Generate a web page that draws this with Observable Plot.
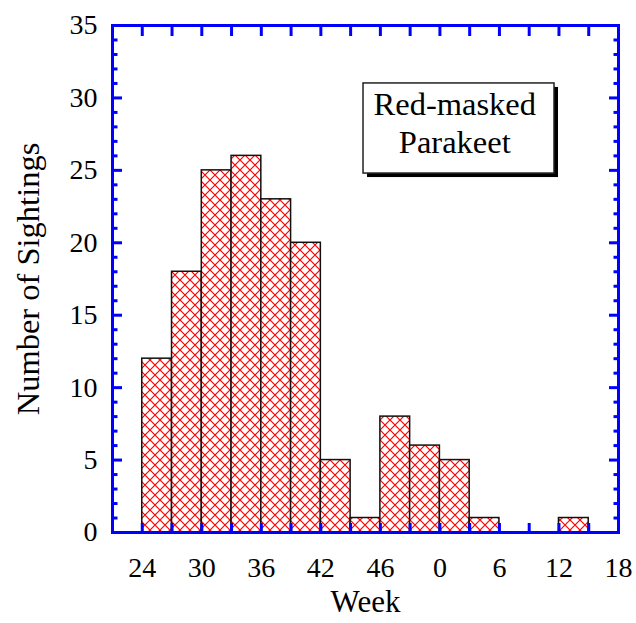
<!DOCTYPE html>
<html><head><meta charset="utf-8">
<script src="https://cdn.jsdelivr.net/npm/d3@7"></script>
<script src="https://cdn.jsdelivr.net/npm/@observablehq/plot@0.6"></script>
<style>html,body{margin:0;padding:0;background:#fff}</style>
</head><body><div id="chart"></div>
<script>
// Data
const binStarts = [24, 27, 30, 33, 36, 39, 42, 45, 48, 51, 54, 57, 60, 63, 66];
const counts    = [12, 18, 25, 26, 23, 20,  5,  1,  8,  6,  5,  1,  0,  0,  1];
const binWidth = 3;
const tickWeeks = [24, 27, 30, 33, 36, 39, 42, 45, 48, 51, 54, 57, 60, 63, 66, 69, 72];
const labelWeeks = [24, 30, 36, 42, 48, 54, 60, 66, 72];
const weekLabels = ["24", "30", "36", "42", "46", "0", "6", "12", "18"];
const yMajor = [0, 5, 10, 15, 20, 25, 30, 35];
const yMinor = [1, 2, 3, 4, 6, 7, 8, 9, 11, 12, 13, 14, 16, 17, 18, 19, 21, 22, 23, 24, 26, 27, 28, 29, 31, 32, 33, 34];
const legendLines = ["Red-masked", "Parakeet"];
const legendBox = {x1: 46.3, x2: 65.55, y1: 24.78, y2: 31.0, cx: 55.5, cy: 28.35};

const data = binStarts.map((s, i) => ({x1: s, x2: s + binWidth, y: counts[i]}));
const blue = "#0000ff";
const serif = "'Liberation Serif', 'Times New Roman', serif";

const defs = () => {
  const d = d3.create("svg:defs");
  const p = d.append("pattern").attr("id", "hatch").attr("patternUnits", "userSpaceOnUse")
    .attr("width", 10).attr("height", 10);
  p.append("rect").attr("width", 10).attr("height", 10).attr("fill", "white");
  p.append("path").attr("d", "M0,0L10,10M10,0L0,10").attr("stroke", "#ff0000").attr("stroke-width", 1.2);
  return d.node();
};

const tickOpts = (extra) => Object.assign({stroke: blue, strokeWidth: 3, tickFormat: () => "", label: null}, extra);

const chart = Plot.plot({
  width: 636, height: 623,
  marginLeft: 112, marginRight: 18, marginTop: 25, marginBottom: 91,
  x: {domain: [21, 72]},
  y: {domain: [0, 35]},
  style: {fontFamily: serif, background: "white", color: "black"},
  marks: [
    defs,
    Plot.rectY(data, {x1: "x1", x2: "x2", y: "y", fill: "url(#hatch)", stroke: "#111", strokeWidth: 1.5}),
    Plot.frame({stroke: blue, strokeWidth: 3}),
    Plot.axisX(tickWeeks, tickOpts({anchor: "bottom", tickSize: -9})),
    Plot.axisX(tickWeeks, tickOpts({anchor: "top", tickSize: -10})),
    Plot.axisY(yMajor, tickOpts({anchor: "left", tickSize: -10})),
    Plot.axisY(yMinor, tickOpts({anchor: "left", tickSize: -5.5})),
    Plot.axisY(yMajor, tickOpts({anchor: "right", tickSize: -10})),
    Plot.axisY(yMinor, tickOpts({anchor: "right", tickSize: -5.5})),
    Plot.axisX(labelWeeks, {anchor: "bottom", tickSize: 0, tickPadding: 25, fontSize: 28, fill: "black", label: null,
      tickFormat: d => weekLabels[labelWeeks.indexOf(d)]}),
    Plot.axisY(yMajor, {anchor: "left", tickSize: 0, tickPadding: 15, fontSize: 28, fill: "black", label: null}),
    Plot.text(["Number of Sightings"], {frameAnchor: "left", dx: -84, rotate: -90, textAnchor: "middle", lineAnchor: "middle", fontSize: 32.5, fill: "black"}),
    Plot.text(["Week"], {frameAnchor: "bottom", dy: 70, textAnchor: "middle", lineAnchor: "middle", fontSize: 31, fill: "black"}),
    Plot.rect([legendBox], {x1: "x1", x2: "x2", y1: "y1", y2: "y2", fill: "black", dx: 4, dy: 4}),
    Plot.rect([legendBox], {x1: "x1", x2: "x2", y1: "y1", y2: "y2", fill: "white", stroke: "#222", strokeWidth: 1.5}),
    Plot.text([legendLines.join("\n")], {x: legendBox.cx, y: legendBox.cy, fontSize: 32.5, lineHeight: 1.18, fill: "black"})
  ]
});
document.getElementById("chart").append(chart);
</script>
</body></html>
